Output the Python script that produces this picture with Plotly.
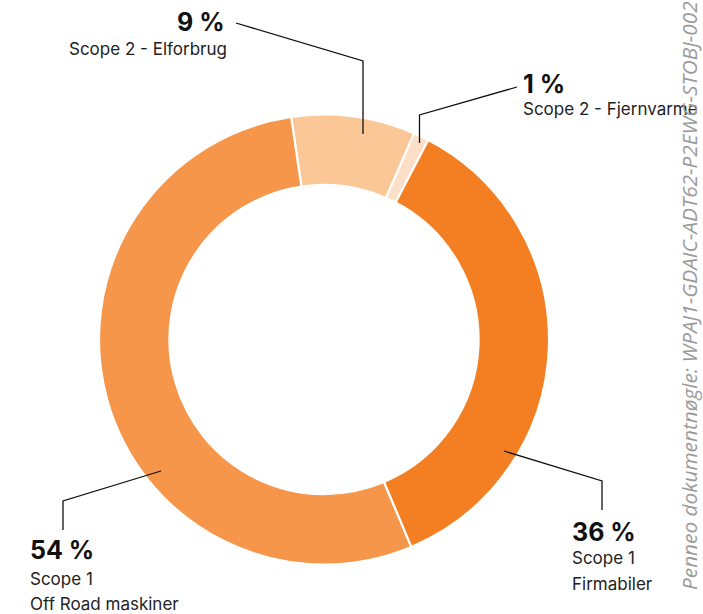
import plotly.graph_objects as go

W, H = 703, 614

# ---- data ----
labels = ["Scope 2 - Elforbrug", "Scope 2 - Fjernvarme", "Scope 1 - Firmabiler", "Scope 1 - Off Road maskiner"]
values = [8.9, 1.1, 36.0, 54.0]
pct_text = ["9 %", "1 %", "36 %", "54 %"]
colors = ["#FBC797", "#FCDFC6", "#F47F22", "#F5964A"]

def px(x):
    return x / W

def py(y):
    return 1 - y / H

fig = go.Figure(
    go.Pie(
        labels=labels,
        values=values,
        sort=False,
        direction="clockwise",
        rotation=-8.4,
        hole=0.687,
        marker=dict(colors=colors, line=dict(color="white", width=2.2)),
        textinfo="none",
        hoverinfo="label+percent",
        domain=dict(x=[px(99), px(549)], y=[py(564.5), py(114.5)]),
        showlegend=False,
    )
)

# leader lines (pixel coords converted to paper)
leaders = [
    [(363, 134), (363, 61), (236, 23)],
    [(419.5, 143), (419.5, 115), (517, 87)],
    [(504, 451), (602, 481), (602, 510)],
    [(161, 471), (63, 501), (63, 530)],
]
shapes = []
for pts in leaders:
    path = "M " + " L ".join(f"{px(x)},{py(y)}" for x, y in pts)
    shapes.append(dict(type="path", path=path, xref="paper", yref="paper",
                       line=dict(color="#111111", width=1.3)))

BOLD = dict(family="Inter, Liberation Sans, Arial", size=25, color="#111111", weight="bold")
REG = dict(family="Inter, Liberation Sans, Arial", size=17, color="#222222")

texts = [
    (pct_text[0], 226, 22, "right", BOLD),
    ("Scope 2 - Elforbrug", 228, 49, "right", REG),
    (pct_text[1], 522, 84, "left", BOLD),
    ("Scope 2 - Fjernvarme", 522, 109, "left", REG),
    (pct_text[2], 571, 531.5, "left", BOLD),
    ("Scope 1", 571, 558, "left", REG),
    ("Firmabiler", 571, 584, "left", REG),
    (pct_text[3], 29, 550, "left", BOLD),
    ("Scope 1", 29, 578.5, "left", REG),
    ("Off Road maskiner", 29, 604, "left", REG),
]
annotations = []
for t, x, y, anchor, font in texts:
    annotations.append(dict(text=t, x=px(x), y=py(y), xref="paper", yref="paper",
                            xanchor=anchor, yanchor="middle", showarrow=False,
                            borderpad=0, font=font))

annotations.append(dict(
    text="Penneo dokumentnøgle: WPAJ1-GDAIC-ADT62-P2EWG-STOBJ-002",
    x=px(689), y=py(296), xref="paper", yref="paper", xanchor="center", yanchor="middle",
    textangle=-90, showarrow=False, borderpad=0,
    font=dict(family="Open Sans, Noto Sans, sans-serif", size=20.8, color="#9a9a9a", style="italic"),
))

fig.update_layout(
    width=W, height=H,
    margin=dict(l=0, r=0, t=0, b=0),
    paper_bgcolor="white", plot_bgcolor="white",
    shapes=shapes, annotations=annotations,
)

fig.write_html("out.html", config={"displayModeBar": False},
               post_script="document.body.style.margin='0';document.body.style.padding='0';")
